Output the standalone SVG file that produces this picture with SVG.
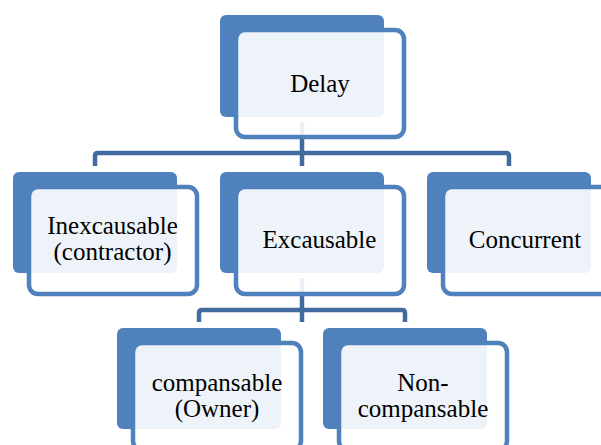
<svg xmlns="http://www.w3.org/2000/svg" width="601" height="445" viewBox="0 0 601 445">
  <defs>
    <style>
      .back { fill: #4F81BD; }
      .front { fill: #FFFFFF; fill-opacity: 0.9; stroke: #4F81BD; stroke-width: 4.5; }
      .conn { fill: none; stroke: #416A9E; stroke-width: 4.5; stroke-linejoin: round; }
      text { font-family: 'Liberation Serif', 'Times New Roman', 'DejaVu Serif', serif; font-size: 25px; fill: #000000; text-anchor: middle; }
    </style>
  </defs>
  <rect x="0" y="0" width="601" height="445" fill="#FFFFFF"/>
  <g id="connectors">
    <path class="conn" d="M302,122 V166"/>
    <path class="conn" d="M95,166 V156 Q95,153 98,153 H506 Q509,153 509,156 V166"/>
    <path class="conn" d="M302,278 V322"/>
    <path class="conn" d="M199,322 V313 Q199,310 202,310 H402 Q405,310 405,313 V322"/>
  </g>
  <g id="node-delay">
    <rect class="back" x="220" y="15" width="164" height="102" rx="6"/>
    <rect class="front" x="236" y="30" width="168" height="107" rx="9"/>
    <text x="320" y="92" font-size="25.5">Delay</text>
  </g>
  <g id="node-inexcausable">
    <rect class="back" x="13" y="172" width="164" height="101" rx="6"/>
    <rect class="front" x="29" y="187" width="168" height="107" rx="9"/>
    <text x="112.5" y="234">Inexcausable</text>
    <text x="112.5" y="260">(contractor)</text>
  </g>
  <g id="node-excausable">
    <rect class="back" x="220" y="172" width="164" height="101" rx="6"/>
    <rect class="front" x="236" y="187" width="168" height="107" rx="9"/>
    <text x="319.5" y="248" font-size="25.5">Excausable</text>
  </g>
  <g id="node-concurrent">
    <rect class="back" x="427" y="172" width="164" height="101" rx="6"/>
    <rect class="front" x="443" y="187" width="168" height="107" rx="9"/>
    <text x="525" y="248" font-size="25.5">Concurrent</text>
  </g>
  <g id="node-compansable">
    <rect class="back" x="117" y="328" width="164" height="101" rx="6"/>
    <rect class="front" x="133" y="343" width="168" height="107" rx="9"/>
    <text x="217" y="391">compansable</text>
    <text x="217" y="417">(Owner)</text>
  </g>
  <g id="node-non-compansable">
    <rect class="back" x="323" y="328" width="164" height="101" rx="6"/>
    <rect class="front" x="339" y="343" width="168" height="107" rx="9"/>
    <text x="423" y="391">Non-</text>
    <text x="423" y="417">compansable</text>
  </g>
</svg>
